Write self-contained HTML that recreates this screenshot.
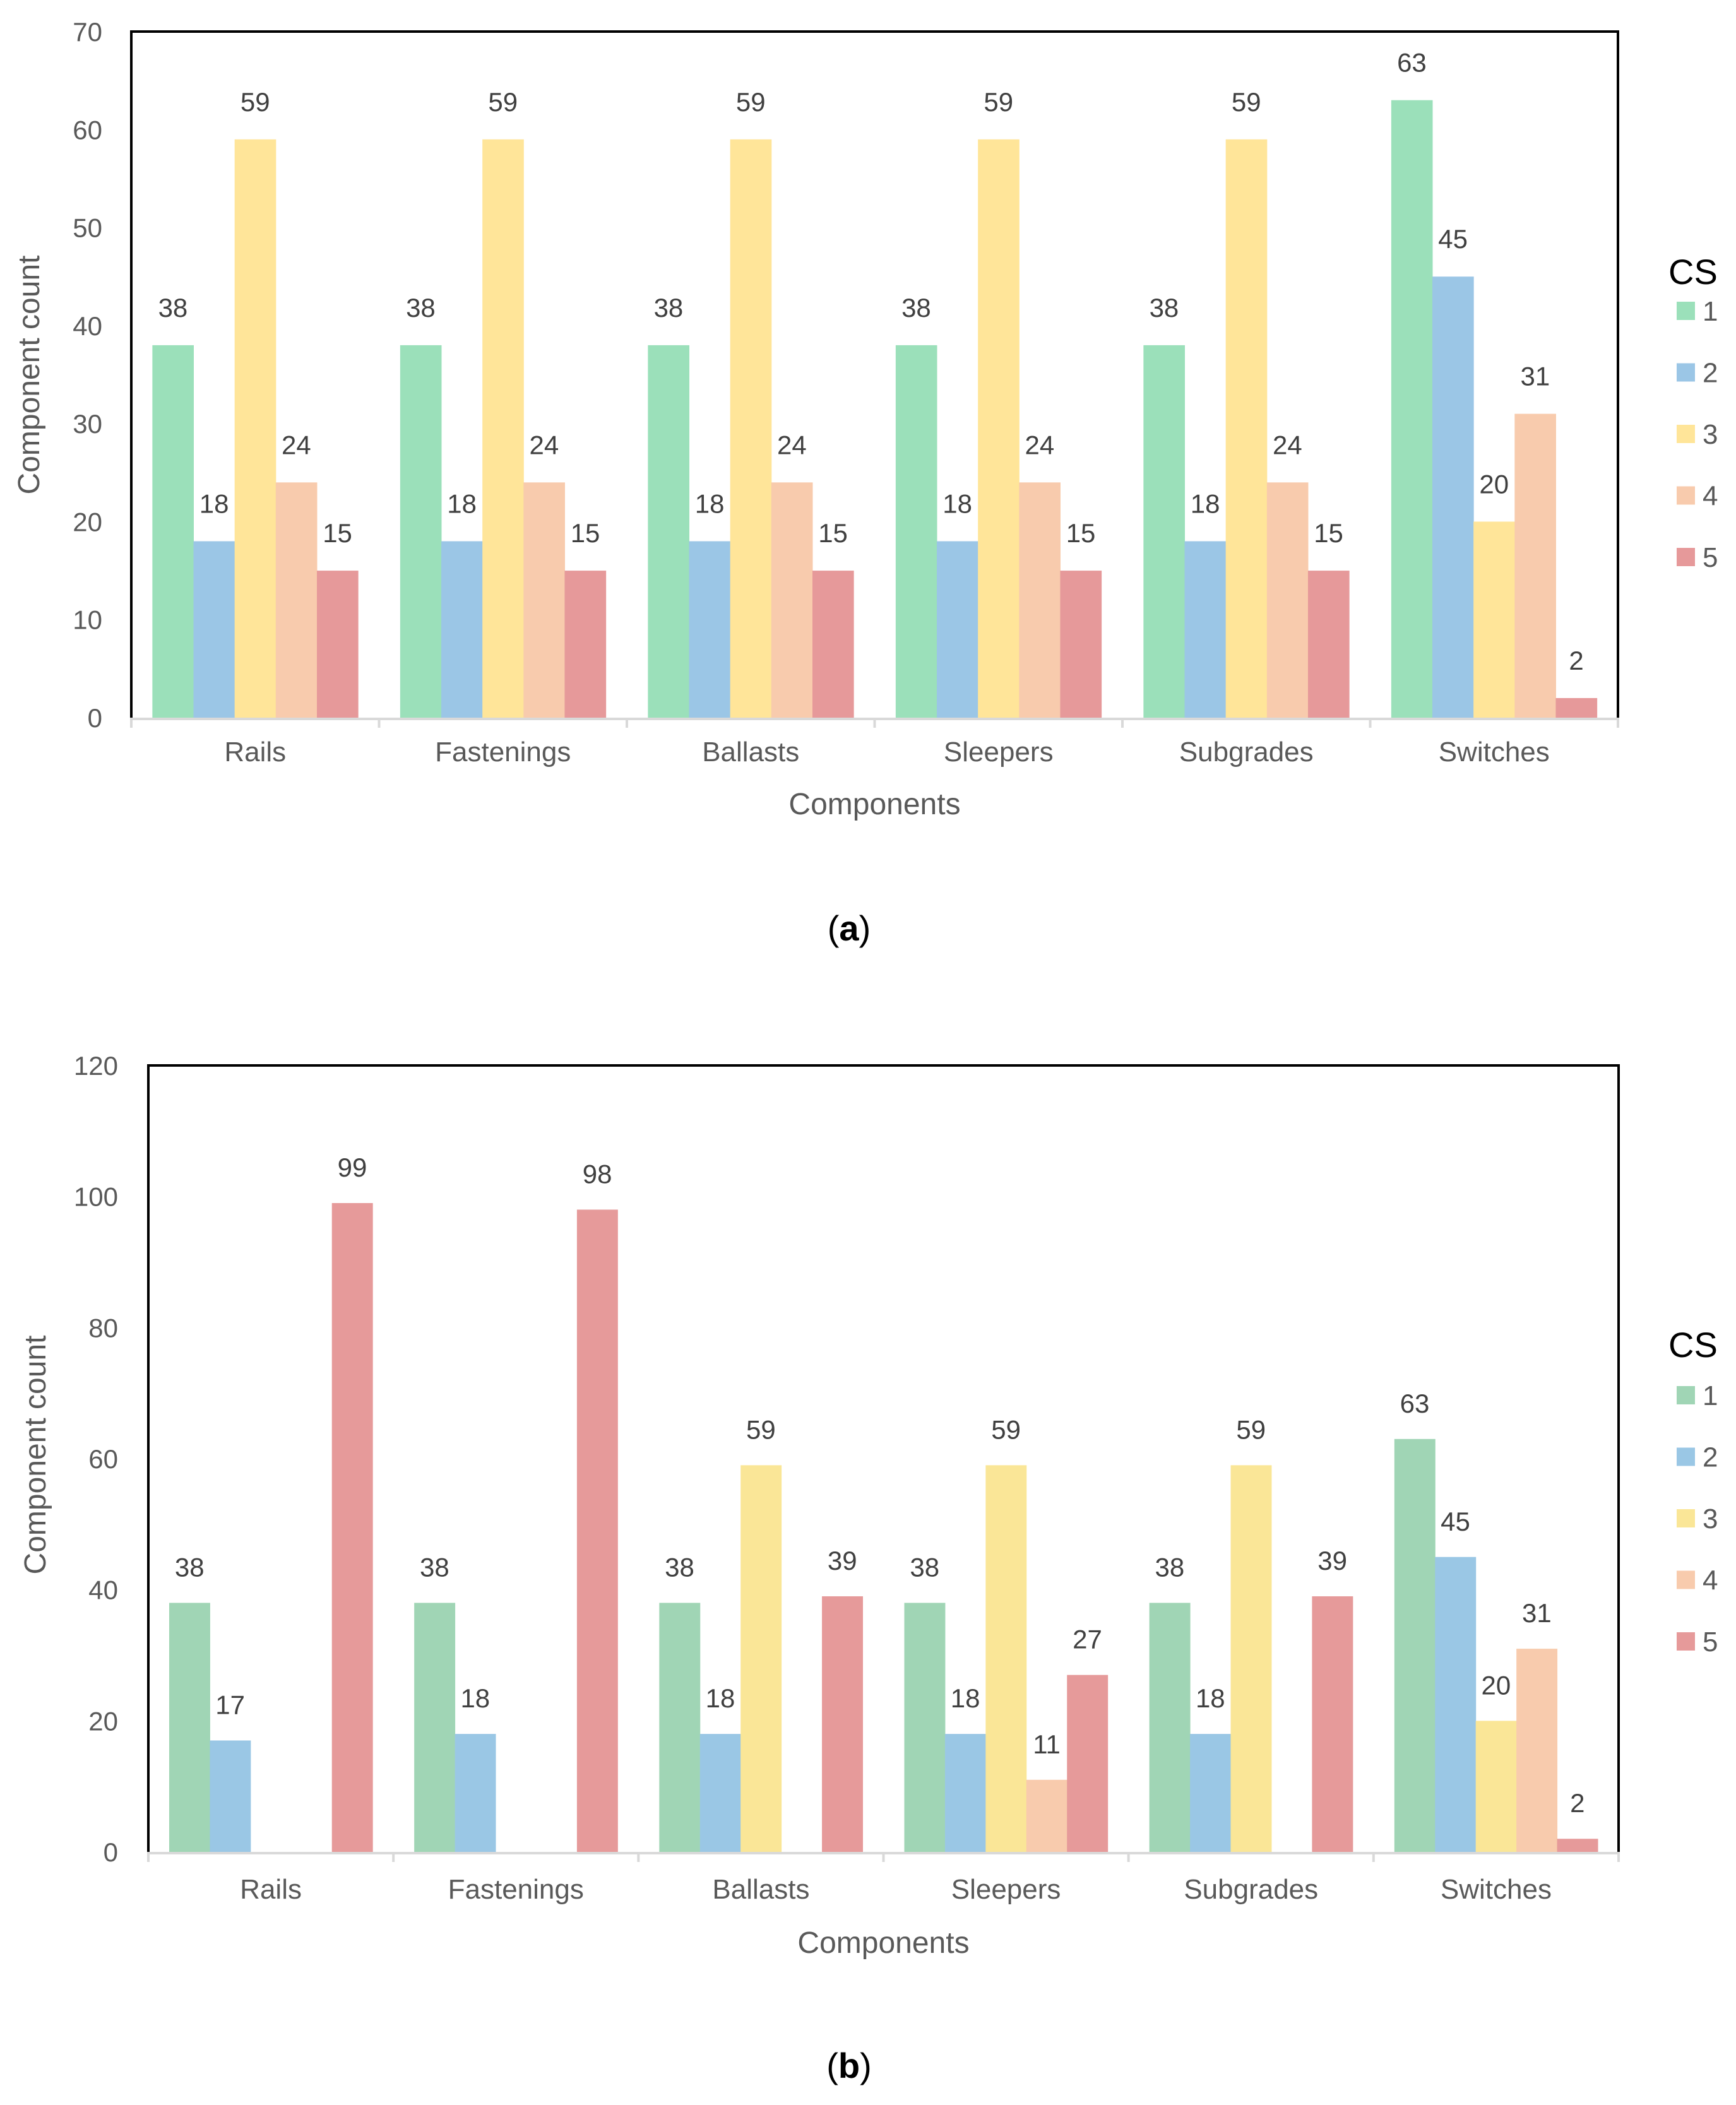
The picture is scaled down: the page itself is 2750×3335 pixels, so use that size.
<!DOCTYPE html>
<html><head><meta charset="utf-8"><style>
html,body{margin:0;padding:0;background:#fff;}
svg{display:block;}
text{font-family:"Liberation Sans","DejaVu Sans",sans-serif;}
</style></head><body>
<svg id="svg" width="2750" height="3335" viewBox="0 0 2750 3335" xmlns="http://www.w3.org/2000/svg"></svg>
<script>
const categories = ["Rails","Fastenings","Ballasts","Sleepers","Subgrades","Switches"];
const seriesNames = ["1","2","3","4","5"];
const aCS1 = [38,38,38,38,38,63];
const aCS2 = [18,18,18,18,18,45];
const aCS3 = [59,59,59,59,59,20];
const aCS4 = [24,24,24,24,24,31];
const aCS5 = [15,15,15,15,15,2];
const bCS1 = [38,38,38,38,38,63];
const bCS2 = [17,18,18,18,18,45];
const bCS3 = [0,0,59,59,59,20];
const bCS4 = [0,0,0,11,0,31];
const bCS5 = [99,98,39,27,39,2];
const aTicks = [0,10,20,30,40,50,60,70];
const bTicks = [0,20,40,60,80,100,120];

const NS = "http://www.w3.org/2000/svg";
const svg = document.getElementById('svg');
function mk(tag, attrs, parent){
  const e = document.createElementNS(NS, tag);
  for (const k in attrs) e.setAttribute(k, attrs[k]);
  (parent||svg).appendChild(e);
  return e;
}
function drawChart(cfg){
  const g = mk('g', {});
  
  
  const L=cfg.left,R=cfg.right,T=cfg.top,B=cfg.bottom,max=cfg.max;
  const yScale = v => B - (v/max)*(B-T);
  const catW = (R-L)/categories.length;
  const barW = catW*0.166;
  const pad = (catW - barW*5)/2;
  const xBar = (ci, si) => L + ci*catW + pad + si*barW;
  cfg.ticks.forEach(t=>{
    const tx = mk('text',{x:cfg.tickX,y:yScale(t)+15,'text-anchor':'end','font-size':42,fill:'#595959'},g);
    tx.textContent = t;
    
    
  });
  cfg.series.forEach((arr, si)=>{
    arr.forEach((v, ci)=>{
      if (v<=0) return;
      const r = mk('rect',{x:xBar(ci,si),y:yScale(v),width:barW+0.5,height:B-yScale(v),fill:cfg.colors[si]},g);
      
      
      const lb = mk('text',{x:xBar(ci,si)+barW/2,y:yScale(v)-cfg.labelOff,'text-anchor':'middle','font-size':42,fill:'#404040'},g);
      lb.textContent = v;
      
      
    });
  });
  const fr = mk('path',{d:`M${L},${B} L${L},${T} L${R},${T} L${R},${B}`,fill:'none',stroke:'#000','stroke-width':4},g);
  
  
  const ax = mk('line',{x1:L,y1:B+2,x2:R,y2:B+2,stroke:'#d9d9d9','stroke-width':4},g);
  
  
  for (let i=0;i<=categories.length;i++){
    const tk = mk('line',{x1:L+i*catW,y1:B,x2:L+i*catW,y2:B+16,stroke:'#d9d9d9','stroke-width':4},g);
    
    
  }
  categories.forEach((c,ci)=>{
    const t = mk('text',{x:L+ci*catW+catW/2,y:cfg.catY,'text-anchor':'middle','font-size':44,fill:'#595959'},g);
    t.textContent = c;
    
    
  });
  const xt = mk('text',{x:(L+R)/2,y:cfg.xTitleY,'text-anchor':'middle','font-size':48,fill:'#595959'},g);
  xt.textContent = 'Components';
  
  
  const yt = mk('text',{x:0,y:0,'text-anchor':'middle','font-size':48,fill:'#595959',transform:`translate(${cfg.yTitleX},${cfg.yTitleY}) rotate(-90)`},g);
  yt.textContent = 'Component count';
  
  
  const cs = mk('text',{x:2643,y:cfg.legTop+20,'font-size':56,fill:'#000'},g);
  cs.textContent = 'CS';
  
  
  seriesNames.forEach((n,si)=>{
    const cy = cfg.legY0 + si*cfg.legStep;
    const sw = mk('rect',{x:2656,y:cy-14,width:29,height:29,fill:cfg.colors[si]},g);
    
    
    const lt = mk('text',{x:2697,y:cy+16,'font-size':44,fill:'#595959'},g);
    lt.textContent = n;
    
    
  });
  const cap = mk('text',{x:1345,y:cfg.capY,'text-anchor':'middle','font-size':56,fill:'#000','font-family':'Liberation Serif, serif'},g);
  cap.innerHTML = '(<tspan font-weight="bold">'+cfg.cap+'</tspan>)';
  
  
}
drawChart({name:'chart-a',left:208,right:2563,top:50,bottom:1137,max:70,ticks:aTicks,tickX:162,
  series:[aCS1,aCS2,aCS3,aCS4,aCS5],colors:['#9BE0BA','#9BC6E6','#FFE599','#F8CBAD','#E6999A'],
  labelOff:45,catY:1206,xTitleY:1290,yTitleX:62,yTitleY:594,legTop:430,legY0:492,legStep:97.5,capY:1490,cap:'a'});
drawChart({name:'chart-b',left:235,right:2564,top:1688,bottom:2934,max:120,ticks:bTicks,tickX:187,
  series:[bCS1,bCS2,bCS3,bCS4,bCS5],colors:['#A0D5B5','#9AC7E5','#FAE697','#F8CBAD','#E69A9A'],
  labelOff:42,catY:3008,xTitleY:3094,yTitleX:72,yTitleY:2305,legTop:2130,legY0:2210,legStep:97.5,capY:3292,cap:'b'});
</script>
</body></html>
